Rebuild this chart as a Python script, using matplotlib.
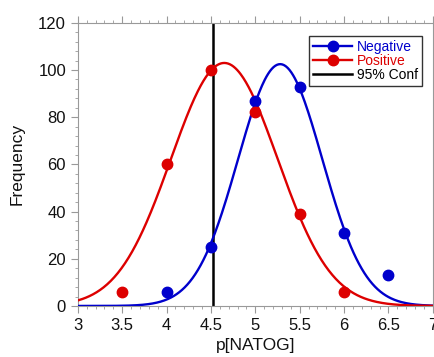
import numpy as np
import matplotlib
matplotlib.use("Agg")
import matplotlib.pyplot as plt
from matplotlib.ticker import MultipleLocator
from matplotlib.lines import Line2D

plt.rcParams['font.family'] = ['Liberation Sans', 'DejaVu Sans']

# Data points
neg_x = [4.0, 4.5, 5.0, 5.5, 6.0, 6.5]
neg_y = [6, 25, 87, 93, 31, 13]
pos_x = [3.5, 4.0, 4.5, 5.0, 5.5, 6.0]
pos_y = [6, 60, 100, 82, 39, 6]

# Gaussian fit parameters (amplitude, center, width)
neg_fit = (102.5, 5.28, 0.475)
pos_fit = (103.0, 4.65, 0.60)
conf_x = 4.52

neg_color = '#0000CC'
pos_color = '#DD0000'

fig = plt.figure(figsize=(4.35, 3.57), dpi=100)
ax = fig.add_axes([0.179, 0.143, 0.816, 0.793])

xs = np.linspace(3, 7, 400)
def gauss(x, p):
    a, m, s = p
    return a * np.exp(-(x - m) ** 2 / (2 * s ** 2))

ax.plot(xs, gauss(xs, neg_fit), color=neg_color, lw=1.7, zorder=3)
ax.plot(xs, gauss(xs, pos_fit), color=pos_color, lw=1.7, zorder=3)
ax.plot(neg_x, neg_y, 'o', color=neg_color, ms=7.5, zorder=4)
ax.plot(pos_x, pos_y, 'o', color=pos_color, ms=7.5, zorder=4)
ax.axvline(conf_x, color='black', lw=1.8, zorder=2)

ax.set_xlim(3, 7)
ax.set_ylim(0, 120)
ax.xaxis.set_major_locator(MultipleLocator(0.5))
ax.xaxis.set_minor_locator(MultipleLocator(0.1))
ax.yaxis.set_major_locator(MultipleLocator(20))
ax.yaxis.set_minor_locator(MultipleLocator(4))
ax.set_xticks([3, 3.5, 4, 4.5, 5, 5.5, 6, 6.5, 7])
ax.set_xticklabels(['3', '3.5', '4', '4.5', '5', '5.5', '6', '6.5', '7'])

spine_c = '#999999'
for s in ax.spines.values():
    s.set_color(spine_c)
    s.set_linewidth(0.8)

ax.tick_params(axis='both', which='both', color=spine_c, labelsize=12,
               labelcolor='#111111', direction='out')
ax.tick_params(axis='both', which='major', length=5, width=0.8)
ax.tick_params(axis='both', which='minor', length=2.5, width=0.6)
ax.tick_params(axis='x', which='both', top=True)
ax.tick_params(axis='y', which='both', right=True)
ax.tick_params(axis='x', pad=4)

ax.set_xlabel('p[NATOG]', fontsize=12.5, color='#111111', labelpad=3)
ax.set_ylabel('Frequency', fontsize=12.5, color='#111111', labelpad=10)

handles = [
    Line2D([], [], color=neg_color, lw=1.7, marker='o', ms=7.5),
    Line2D([], [], color=pos_color, lw=1.7, marker='o', ms=7.5),
    Line2D([], [], color='black', lw=1.8),
]
leg = ax.legend(handles, ['Negative', 'Positive', '95% Conf'], loc='upper right',
                bbox_to_anchor=(0.969, 0.954), fontsize=10, frameon=True,
                fancybox=False, edgecolor='black', handlelength=2.8,
                handletextpad=0.3, borderpad=0.3, labelspacing=0.0,
                borderaxespad=0)
leg.get_frame().set_linewidth(1.0)
for t, c in zip(leg.get_texts(), [neg_color, pos_color, 'black']):
    t.set_color(c)

fig.savefig('out.png', dpi=100)
